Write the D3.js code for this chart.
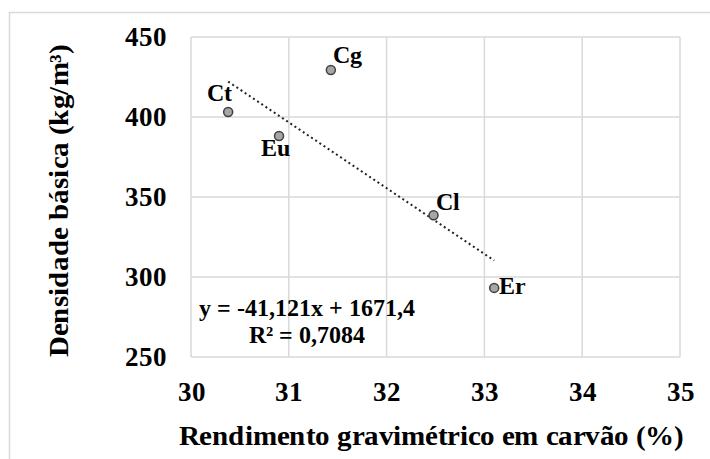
<!DOCTYPE html>
<html><head><meta charset="utf-8">
<script src="https://cdn.jsdelivr.net/npm/d3@7"></script>
<style>
@font-face{font-family:"ChartSerif";font-weight:bold;src:local("Liberation Serif Bold"),local("LiberationSerif-Bold"),local("Times New Roman Bold"),local("TimesNewRomanPS-BoldMT");}
body{margin:0;background:#fff}
</style>
</head><body>
<script>
const labels = ["Cg","Ct","Eu","Cl","Er"];
const xValues = [31.43, 30.38, 30.90, 32.48, 33.10];
const yValues = [429.4, 403.1, 388.1, 338.6, 293.2];
const xTicks = [30,31,32,33,34,35];
const yTicks = [250,300,350,400,450];
const trendSlope = -41.121, trendIntercept = 1671.4;
const equationLines = ["y = -41,121x + 1671,4", "R² = 0,7084"];
const xTitle = "Rendimento gravimétrico em carvão (%)";
const yTitle = "Densidade básica (kg/m³)";

const W = 710, H = 459;
const FONT = "ChartSerif, 'Liberation Serif', 'Times New Roman', serif";
const svg = d3.select("body").append("svg").attr("width", W).attr("height", H);
function styleText(sel, size) {
  return sel.style("font-family", FONT).style("font-weight", "bold").style("font-size", size + "px");
}

svg.append("rect").attr("x", 9.5).attr("y", 12.5).attr("width", W + 10).attr("height", H + 10)
  .attr("fill", "none").attr("stroke", "#d9d9d9").attr("stroke-width", 1.5);

const L = 191, R = 680, T = 37, B = 357;
const x = d3.scaleLinear().domain([30,35]).range([L,R]);
const y = d3.scaleLinear().domain([250,450]).range([B,T]);

const grid = svg.append("g").attr("stroke", "#d9d9d9").attr("stroke-width", 1.5);
xTicks.forEach(t => grid.append("line").attr("x1", x(t)).attr("x2", x(t)).attr("y1", T).attr("y2", B));
yTicks.forEach(t => grid.append("line").attr("x1", L).attr("x2", R).attr("y1", y(t)).attr("y2", y(t)));

const xAxis = svg.append("g").attr("transform", `translate(0,${B})`)
  .call(d3.axisBottom(x).tickValues(xTicks).tickFormat(d3.format("d")).tickSize(0).tickPadding(25));
const yAxis = svg.append("g").attr("transform", `translate(${L},0)`)
  .call(d3.axisLeft(y).tickValues(yTicks).tickFormat(d3.format("d")).tickSize(0).tickPadding(24));
[xAxis, yAxis].forEach(a => {
  a.select(".domain").remove();
  a.attr("font-family", null).attr("font-size", null);
  styleText(a.selectAll("text"), 27).attr("fill", "#000");
});
yAxis.selectAll("text").attr("dy", "0.33em");

const xr = [d3.min(xValues), d3.max(xValues)];
svg.append("line")
  .attr("x1", x(xr[0])).attr("y1", y(trendSlope * xr[0] + trendIntercept))
  .attr("x2", x(xr[1])).attr("y2", y(trendSlope * xr[1] + trendIntercept))
  .attr("stroke", "#222").attr("stroke-width", 2).attr("stroke-dasharray", "2,3");

const pts = labels.map((l, i) => ({l, x: xValues[i], y: yValues[i]}));
svg.append("g").selectAll("circle").data(pts).join("circle")
  .attr("cx", d => x(d.x)).attr("cy", d => y(d.y)).attr("r", 4.5)
  .attr("fill", "#a6a6a6").attr("stroke", "#404040").attr("stroke-width", 1.5);

const offs = {Cg:[2,-7,"start"], Ct:[4,-11,"end"], Eu:[-4,20,"middle"], Cl:[2,-5,"start"], Er:[5,6,"start"]};
styleText(svg.append("g").selectAll("text").data(pts).join("text")
  .attr("x", d => x(d.x) + offs[d.l][0]).attr("y", d => y(d.y) + offs[d.l][1])
  .attr("text-anchor", d => offs[d.l][2]), 24)
  .text(d => d.l);

styleText(svg.append("g").selectAll("text").data(equationLines).join("text")
  .attr("x", 307).attr("y", (d, i) => 316 + i * 27).attr("text-anchor", "middle"), 24)
  .text(d => d);

styleText(svg.append("text").attr("x", 431).attr("y", 445).attr("text-anchor", "middle"), 28)
  .attr("textLength", 505).attr("lengthAdjust", "spacingAndGlyphs")
  .text(xTitle);
styleText(svg.append("text").attr("transform", `translate(68,201) rotate(-90)`)
  .attr("text-anchor", "middle"), 28)
  .attr("textLength", 312).attr("lengthAdjust", "spacingAndGlyphs")
  .text(yTitle);
</script>
</body></html>
